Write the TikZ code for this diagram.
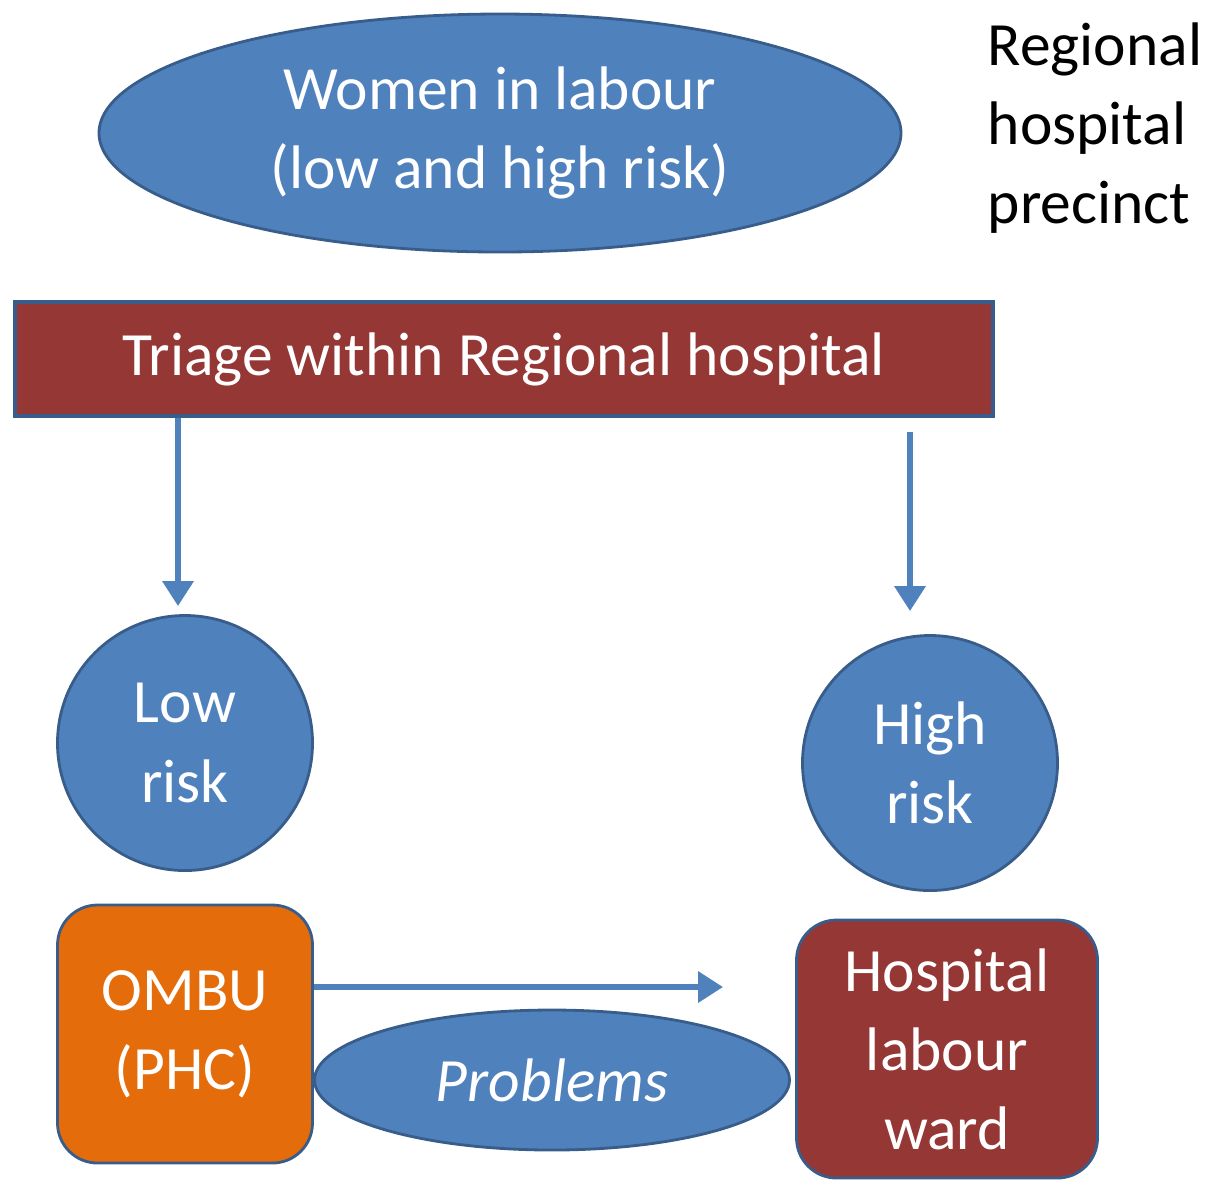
\documentclass[tikz,border=0pt]{standalone}
\usepackage{fontspec}
\setmainfont{Carlito}
\usepackage{tikz}
\usetikzlibrary{shapes.geometric,arrows.meta}
\definecolor{shapeBlue}{HTML}{4F81BD}
\definecolor{edgeBlue}{HTML}{385D8A}
\definecolor{triageRed}{HTML}{953735}
\definecolor{ombuOrange}{HTML}{E46C0A}

\begin{document}
\begin{tikzpicture}[
  x=1cm, y=-1cm,
  every node/.style={
    font=\fontsize{17.5}{22.5}\selectfont,
    align=center,
    inner sep=0pt,
  },
  blob/.style={
    ellipse,
    draw=edgeBlue,
    line width=0.8pt,
    fill=shapeBlue,
    text=white,
  },
  riskcircle/.style={
    circle,
    draw=edgeBlue,
    line width=0.8pt,
    fill=shapeBlue,
    text=white,
    minimum size=2.55cm,
  },
  unitbox/.style={
    rectangle,
    rounded corners=0.4cm,
    draw=edgeBlue,
    line width=0.8pt,
    text=white,
  },
  flow/.style={
    draw=shapeBlue,
    line width=1.8pt,
    -{Triangle[width=0.3cm,length=0.25cm]},
  },
]
\useasboundingbox (0,0) rectangle (12.21,11.82);

\node[blob,minimum width=8.02cm,minimum height=2.38cm] (women) at (5.00,1.33)
  {Women in labour\\(low and high risk)};
\node[align=left,text=black] (precinct) at (10.95,1.28)
  {Regional\\hospital\\precinct};

\node[rectangle,draw=edgeBlue,line width=1.2pt,fill=triageRed,text=white,
  minimum width=9.78cm,minimum height=1.14cm] (triage) at (5.04,3.59)
  {Triage within Regional hospital};

\node[riskcircle] (low) at (1.85,7.43) {Low\\risk};
\node[riskcircle] (high) at (9.30,7.63) {High\\risk};

\node[unitbox,fill=ombuOrange,minimum width=2.55cm,minimum height=2.58cm]
  (ombu) at (1.85,10.34) {OMBU\\(PHC)};
\node[unitbox,fill=triageRed,minimum width=3.01cm,minimum height=2.58cm]
  (ward) at (9.47,10.49) {Hospital\\labour\\ward};
\node[blob,minimum width=4.75cm,minimum height=1.40cm] (problems) at (5.52,10.80)
  {\itshape Problems};

% arrows
\draw[flow,shorten >=0.08cm] ([xshift=-0.07cm]triage.south -| low.north)
  -- ([xshift=-0.07cm]low.north);
\draw[flow,shorten <=0.14cm,shorten >=0.23cm] ([xshift=-0.2cm]triage.south -| high.north)
  -- ([xshift=-0.2cm]high.north);
\draw[flow,shorten >=0.72cm] ([yshift=0.47cm]ombu.east)
  -- ([yshift=0.47cm]ombu.east -| ward.west);
\end{tikzpicture}
\end{document}
